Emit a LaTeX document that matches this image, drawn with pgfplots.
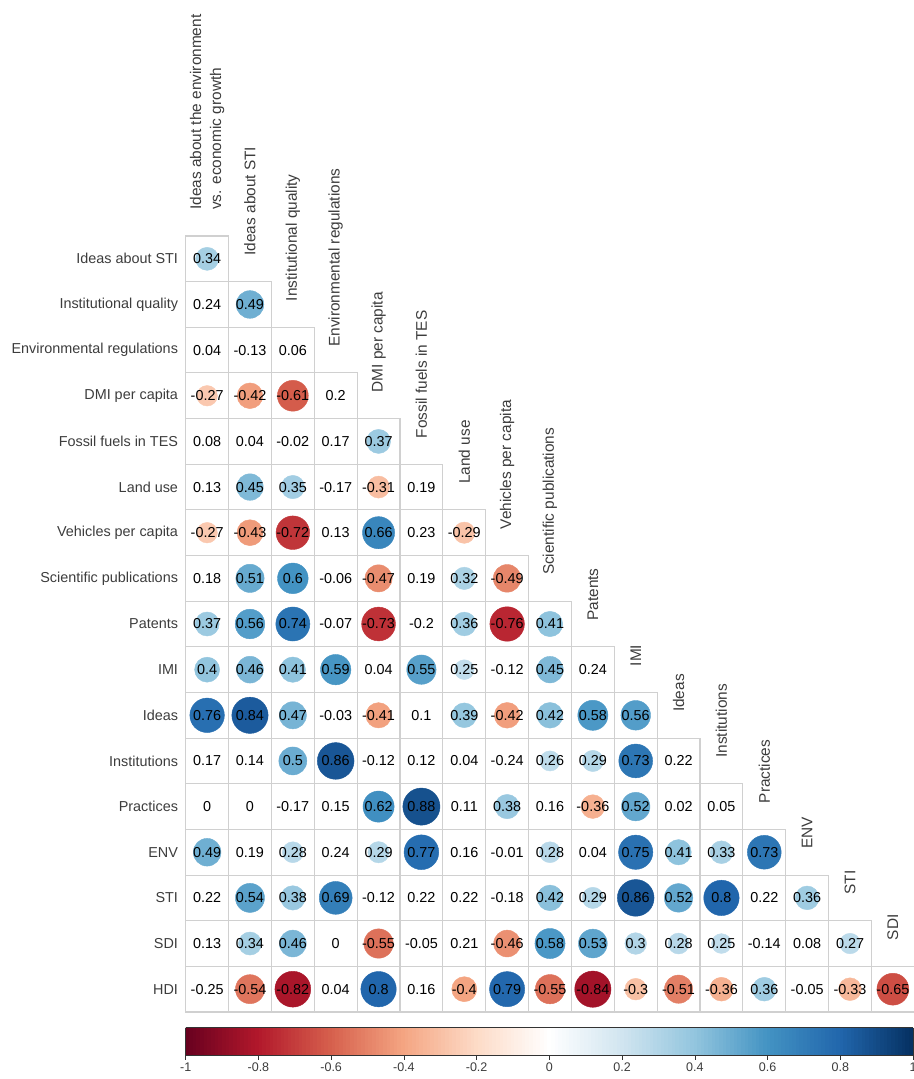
\documentclass[border=0pt]{standalone}
\usepackage{pgfplots}
\pgfplotsset{compat=1.18}
\usepackage{pgfplotstable}
\usepackage{fontspec}
\setmainfont{Liberation Sans}
\pgfdeclareplotmark{cell}{%
  \pgfpathrectangle{\pgfpoint{-21.43pt}{-22.825pt}}{\pgfpoint{42.86pt}{45.65pt}}%
  \pgfusepathqstroke}
\pgfplotsset{colormap={rdbu}{rgb255=(103,0,31) rgb255=(178,24,43) rgb255=(214,96,77) rgb255=(244,165,130) rgb255=(253,219,199) rgb255=(255,255,255) rgb255=(209,229,240) rgb255=(146,197,222) rgb255=(67,147,195) rgb255=(33,102,172) rgb255=(5,48,97)}}
\definecolor{labgray}{RGB}{60,60,60}
\definecolor{gridgray}{RGB}{208,208,208}
\pgfplotstableread{
x y r s
1 1 0.34 1
1 2 0.24 0
2 2 0.49 1
1 3 0.04 0
2 3 -0.13 0
3 3 0.06 0
1 4 -0.27 1
2 4 -0.42 1
3 4 -0.61 1
4 4 0.2 0
1 5 0.08 0
2 5 0.04 0
3 5 -0.02 0
4 5 0.17 0
5 5 0.37 1
1 6 0.13 0
2 6 0.45 1
3 6 0.35 1
4 6 -0.17 0
5 6 -0.31 1
6 6 0.19 0
1 7 -0.27 1
2 7 -0.43 1
3 7 -0.72 1
4 7 0.13 0
5 7 0.66 1
6 7 0.23 0
7 7 -0.29 1
1 8 0.18 0
2 8 0.51 1
3 8 0.6 1
4 8 -0.06 0
5 8 -0.47 1
6 8 0.19 0
7 8 0.32 1
8 8 -0.49 1
1 9 0.37 1
2 9 0.56 1
3 9 0.74 1
4 9 -0.07 0
5 9 -0.73 1
6 9 -0.2 0
7 9 0.36 1
8 9 -0.76 1
9 9 0.41 1
1 10 0.4 1
2 10 0.46 1
3 10 0.41 1
4 10 0.59 1
5 10 0.04 0
6 10 0.55 1
7 10 0.25 1
8 10 -0.12 0
9 10 0.45 1
10 10 0.24 0
1 11 0.76 1
2 11 0.84 1
3 11 0.47 1
4 11 -0.03 0
5 11 -0.41 1
6 11 0.1 0
7 11 0.39 1
8 11 -0.42 1
9 11 0.42 1
10 11 0.58 1
11 11 0.56 1
1 12 0.17 0
2 12 0.14 0
3 12 0.5 1
4 12 0.86 1
5 12 -0.12 0
6 12 0.12 0
7 12 0.04 0
8 12 -0.24 0
9 12 0.26 1
10 12 0.29 1
11 12 0.73 1
12 12 0.22 0
1 13 0 0
2 13 0 0
3 13 -0.17 0
4 13 0.15 0
5 13 0.62 1
6 13 0.88 1
7 13 0.11 0
8 13 0.38 1
9 13 0.16 0
10 13 -0.36 1
11 13 0.52 1
12 13 0.02 0
13 13 0.05 0
1 14 0.49 1
2 14 0.19 0
3 14 0.28 1
4 14 0.24 0
5 14 0.29 1
6 14 0.77 1
7 14 0.16 0
8 14 -0.01 0
9 14 0.28 1
10 14 0.04 0
11 14 0.75 1
12 14 0.41 1
13 14 0.33 1
14 14 0.73 1
1 15 0.22 0
2 15 0.54 1
3 15 0.38 1
4 15 0.69 1
5 15 -0.12 0
6 15 0.22 0
7 15 0.22 0
8 15 -0.18 0
9 15 0.42 1
10 15 0.29 1
11 15 0.86 1
12 15 0.52 1
13 15 0.8 1
14 15 0.22 0
15 15 0.36 1
1 16 0.13 0
2 16 0.34 1
3 16 0.46 1
4 16 0 0
5 16 -0.55 1
6 16 -0.05 0
7 16 0.21 0
8 16 -0.46 1
9 16 0.58 1
10 16 0.53 1
11 16 0.3 1
12 16 0.28 1
13 16 0.25 1
14 16 -0.14 0
15 16 0.08 0
16 16 0.27 1
1 17 -0.25 0
2 17 -0.54 1
3 17 -0.82 1
4 17 0.04 0
5 17 0.8 1
6 17 0.16 0
7 17 -0.4 1
8 17 0.79 1
9 17 -0.55 1
10 17 -0.84 1
11 17 -0.3 1
12 17 -0.51 1
13 17 -0.36 1
14 17 0.36 1
15 17 -0.05 0
16 17 -0.33 1
17 17 -0.65 1
}\corr
\newcommand\labfont{\fontsize{14.4}{19.5}\selectfont}
\newcommand\colfont{\fontsize{15.4}{20}\selectfont}
\begin{document}
\begin{tikzpicture}
\begin{axis}[
  scale only axis, width=728.6pt, height=776pt,
  xmin=0.5, xmax=17.5, ymin=0.5, ymax=17.5, y dir=reverse,
  clip=false,
  axis line style={draw=none},
  major tick style={draw=none},
  xtick=\empty,
  ytick={1,...,17},
  yticklabels={Ideas about STI, Institutional quality, Environmental regulations, DMI per capita, Fossil fuels in TES, Land use, Vehicles per capita, Scientific publications, Patents, IMI, Ideas, Institutions, Practices, ENV, STI, SDI, HDI},
  yticklabel style={font=\labfont, text=labgray, inner sep=0pt, xshift=-7.5pt},
  colormap name=rdbu,
  point meta min=-1, point meta max=1,
  colorbar horizontal,
  colorbar sampled,
  colorbar style={
    at={(parent axis.south west)}, anchor=north west, yshift=-7pt,
    scale only axis, width=727.3pt, height=28pt,
    samples=200,
    xtick={-1,-0.8,-0.6,-0.4,-0.2,0,0.2,0.4,0.6,0.8,1},
    xticklabels={-1,-0.8,-0.6,-0.4,-0.2,0,0.2,0.4,0.6,0.8,1},
    xticklabel style={font=\fontsize{12.5}{14}\selectfont, text=labgray},
    xtick pos=left, xticklabel pos=left,
    tick align=outside, major tick length=4pt,
    major tick style={draw=black!80, line width=0.6pt},
    axis line style={draw=black!80, line width=0.8pt},
  },
]
\addplot[only marks, mark=cell, mark options={draw=gridgray, line width=1.1pt}] table[x=x, y=y] {\corr};
\addplot[scatter, only marks, mark=*, scatter src=explicit,
  scatter/use mapped color={draw=mapped color, fill=mapped color},
  unbounded coords=discard,
  y filter/.expression={\thisrow{s}>0 ? y : nan},
  visualization depends on={\thisrow{r} \as \rval},
  scatter/@pre marker code/.append style={/tikz/mark size={19.8*sqrt(abs(\rval))}}]
  table[x=x, y=y, meta=r] {\corr};
\addplot[draw=none, mark=none, nodes near coords, point meta=explicit symbolic,
  nodes near coords align={center},
  every node near coord/.append style={font=\labfont, text=black, inner sep=0pt}]
  table[x=x, y=y, meta=r] {\corr};
\tikzset{collab/.style={rotate=90, anchor=west, inner sep=0pt, align=left, font=\colfont, text=labgray}}
\node[collab] at ([yshift=26pt]axis cs:1,0.5) {Ideas about the environment\\vs. economic growth};
\node[collab] at ([yshift=26pt]axis cs:2,1.5) {Ideas about STI};
\node[collab] at ([yshift=26pt]axis cs:3,2.5) {Institutional quality};
\node[collab] at ([yshift=26pt]axis cs:4,3.5) {Environmental regulations};
\node[collab] at ([yshift=26pt]axis cs:5,4.5) {DMI per capita};
\node[collab] at ([yshift=26pt]axis cs:6,5.5) {Fossil fuels in TES};
\node[collab] at ([yshift=26pt]axis cs:7,6.5) {Land use};
\node[collab] at ([yshift=26pt]axis cs:8,7.5) {Vehicles per capita};
\node[collab] at ([yshift=26pt]axis cs:9,8.5) {Scientific publications};
\node[collab] at ([yshift=26pt]axis cs:10,9.5) {Patents};
\node[collab] at ([yshift=26pt]axis cs:11,10.5) {IMI};
\node[collab] at ([yshift=26pt]axis cs:12,11.5) {Ideas};
\node[collab] at ([yshift=26pt]axis cs:13,12.5) {Institutions};
\node[collab] at ([yshift=26pt]axis cs:14,13.5) {Practices};
\node[collab] at ([yshift=26pt]axis cs:15,14.5) {ENV};
\node[collab] at ([yshift=26pt]axis cs:16,15.5) {STI};
\node[collab] at ([yshift=26pt]axis cs:17,16.5) {SDI};
\coordinate (tl) at (axis cs:0.5,0.5);
\coordinate (br) at (axis cs:17.5,17.5);
\end{axis}
\pgfresetboundingbox
\path[use as bounding box] ([shift={(-185.7pt,236pt)}]tl) rectangle ([shift={(-0.3pt,-67pt)}]br);
\end{tikzpicture}
\end{document}
